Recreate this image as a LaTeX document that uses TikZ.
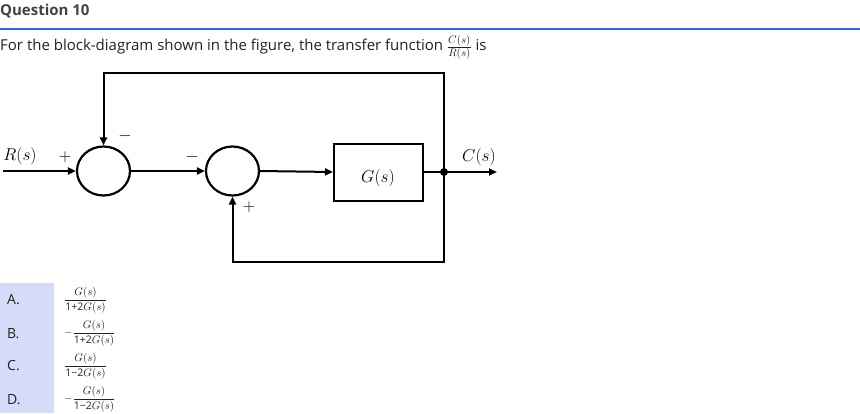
\documentclass[tikz,border=0pt]{standalone}
\usepackage{fontspec}
\setmainfont{Open Sans}
\usepackage{amsmath}
\usetikzlibrary{arrows.meta, positioning, shapes.geometric}
\definecolor{qblue}{RGB}{26,111,219}
\definecolor{optbg}{RGB}{213,219,248}
\definecolor{qtext}{RGB}{34,34,34}
\tikzset{
  sig/.style={-{Triangle[length=8pt, width=7pt]}, line width=2pt},
  sumj/.style={ellipse, draw, line width=2.2pt, minimum width=53pt,
               minimum height=49pt, inner sep=0pt},
  block/.style={draw, line width=2pt, minimum width=89pt,
                minimum height=57pt, inner sep=0pt},
  sgn/.style={font=\fontsize{16}{16}\selectfont, inner sep=0pt},
  lbl/.style={font=\fontsize{16}{16}\selectfont, inner sep=0pt},
  opt/.style={font=\fontsize{14}{14}\selectfont, text=qtext, inner sep=0pt},
  frc/.style={font=\fontsize{10.5}{10.5}\selectfont, text=qtext, inner sep=0pt,
              anchor=west},
}

\begin{document}
\begin{tikzpicture}[x=1pt, y=-1pt]
    \useasboundingbox (0,0) rectangle (860,413);

    % ─── Heading and question ─────────────────────────────────────────
    \node[anchor=west, inner sep=0pt, text=qtext!85!white,
          font=\fontsize{15}{15}\selectfont\bfseries] (title) at (0,11) {Question 10};
    \coordinate (rl) at (0,29);
    \coordinate (rr) at (860,29);
    \draw[qblue, line width=1.2pt] (rl) -- (rr);
    \node[anchor=west, inner sep=0pt, text=qtext,
          font=\fontsize{15}{15}\selectfont] (qline) at (0,47)
      {For the block-diagram shown in the figure, the transfer function $\frac{C(s)}{R(s)}$ is};

    % ─── Block diagram ────────────────────────────────────────────────
    \node[sumj] (s1) at (103.5,171) {};
    \node[sumj] (s2) at (232.5,171) {};
    \node[block] (g) at (378.5,172) {};
    \node[lbl] (glab) at (378,178) {$G(s)$};

    \coordinate (in)  at (3,171);
    \coordinate (br)  at (444,172);
    \coordinate (out) at (497,172);
    \coordinate (tr)  at (444,73);
    \coordinate (bt)  at (444,262);

    \draw[sig] (in) -- (s1.west);
    \draw[sig] (s1.east) -- (s2.west);
    \draw[sig] (s2.east) -- (g.west);
    \draw[sig] (g.east) -- (out);
    \fill (br) circle (4pt);

    % outer and inner feedback paths
    \draw[sig] (br) -- (tr) -| (s1.north);
    \draw[sig] (br) -- (bt) -| (s2.south);

    % signs and signal names
    \node[lbl] (rs) at (20,156) {$R(s)$};
    \node[lbl] (cs) at (479,157) {$C(s)$};
    \node[sgn] (p1) at (65,157) {$+$};
    \node[sgn] (m1) at (125,136) {$-$};
    \node[sgn] (m2) at (192,157) {$-$};
    \node[sgn] (p2) at (249,207) {$+$};

    % ─── Answer options ───────────────────────────────────────────────
    \fill[optbg] (0,283) rectangle (54,413);
    \node[opt, anchor=west] (oa) at (7,300) {A.};
    \node[opt, anchor=west] (ob) at (7,334) {B.};
    \node[opt, anchor=west] (oc) at (7,366) {C.};
    \node[opt, anchor=west] (od) at (7,400) {D.};

    \node[frc] (fa) at (64,300) {$\dfrac{G(s)}{\text{1+2}G(s)}$};
    \node[frc] (fb) at (64,333) {$-\dfrac{G(s)}{\text{1+2}G(s)}$};
    \node[frc] (fc) at (64,366) {$\dfrac{G(s)}{\text{1−2}G(s)}$};
    \node[frc] (fd) at (64,399) {$-\dfrac{G(s)}{\text{1−2}G(s)}$};

\end{tikzpicture}
\end{document}
